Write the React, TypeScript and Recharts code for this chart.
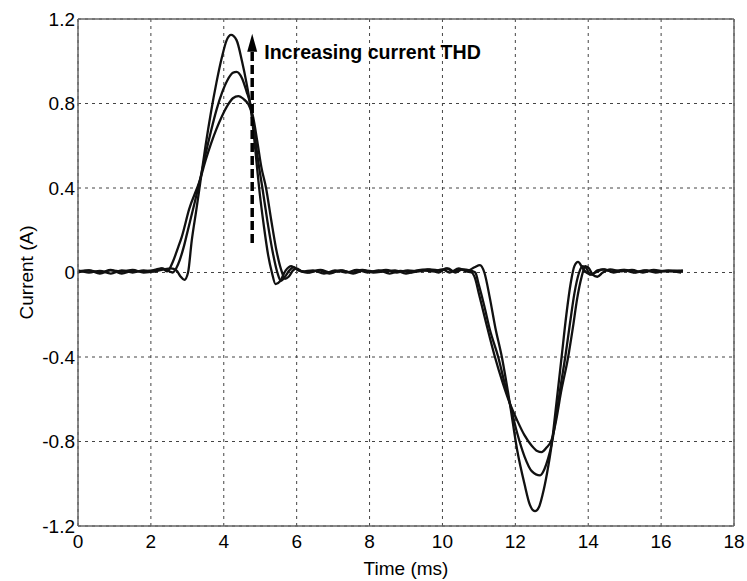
import React from 'react';
import { LineChart, Line, XAxis, YAxis, CartesianGrid, ReferenceLine } from 'recharts';

// Time (ms), current (A) pairs for the three waveforms (A = highest THD, tallest peak)
const waveA: [number, number][] = [
  [0, 0.005], [0.3, 0.01], [0.6, -0.005], [0.9, 0.01], [1.2, 0.005], [1.5, 0.012], [1.8, 0.0], [2.1, 0.005],
  [2.35, 0.015], [2.55, 0.02], [2.7, 0.01], [2.82, -0.02], [2.92, -0.035], [3.02, 0.0], [3.12, 0.15], [3.25, 0.3],
  [3.35, 0.42], [3.5, 0.6], [3.65, 0.76], [3.8, 0.9], [3.95, 1.02], [4.08, 1.1], [4.2, 1.125], [4.35, 1.1],
  [4.5, 1.0], [4.62, 0.9], [4.72, 0.8], [4.82, 0.66], [4.9, 0.52], [4.97, 0.4], [5.1, 0.22], [5.22, 0.08],
  [5.32, 0.0], [5.42, -0.055], [5.55, -0.04], [5.7, 0.01], [5.85, 0.03], [6.0, 0.015], [6.3, 0.0], [6.6, 0.01],
  [6.9, -0.005], [7.2, 0.01], [7.5, 0.0], [7.8, 0.012], [8.1, 0.0], [8.4, 0.005], [8.7, 0.01], [9.0, -0.005],
  [9.3, 0.01], [9.6, 0.015], [9.9, 0.0], [10.1, 0.02], [10.3, 0.005], [10.5, 0.015], [10.7, 0.01], [10.88, 0.025],
  [11.03, 0.035], [11.15, 0.0], [11.3, -0.12], [11.45, -0.26], [11.63, -0.4], [11.85, -0.62], [12.05, -0.84],
  [12.25, -1.0], [12.4, -1.1], [12.54, -1.13], [12.65, -1.11], [12.75, -1.05], [12.87, -0.95], [13.0, -0.81],
  [13.12, -0.63], [13.27, -0.4], [13.4, -0.2], [13.52, -0.05], [13.62, 0.03], [13.72, 0.05], [13.85, 0.02],
  [13.95, 0.0], [14.1, -0.01], [14.25, 0.01], [14.45, 0.015], [14.7, 0.0], [15.0, 0.012], [15.3, 0.0],
  [15.6, 0.01], [15.9, 0.005], [16.2, 0.01], [16.6, 0.005],
];

const waveB: [number, number][] = [
  [0, 0.0], [0.3, 0.01], [0.6, 0.0], [0.9, 0.012], [1.2, -0.005], [1.5, 0.008], [1.8, 0.005], [2.1, 0.012],
  [2.3, 0.02], [2.45, 0.01], [2.6, 0.0], [2.75, 0.04], [2.9, 0.12], [3.0, 0.19], [3.2, 0.33], [3.35, 0.44],
  [3.5, 0.56], [3.65, 0.67], [3.8, 0.77], [3.95, 0.85], [4.1, 0.91], [4.25, 0.945], [4.35, 0.95], [4.5, 0.92],
  [4.62, 0.86], [4.75, 0.78], [4.85, 0.65], [4.95, 0.52], [5.06, 0.4], [5.2, 0.24], [5.35, 0.09], [5.47, 0.0],
  [5.57, -0.04], [5.68, -0.02], [5.8, 0.01], [5.92, 0.025], [6.05, 0.01], [6.35, 0.0], [6.65, 0.012], [6.95, 0.0],
  [7.25, 0.01], [7.55, -0.005], [7.85, 0.01], [8.15, 0.005], [8.45, 0.012], [8.75, 0.0], [9.05, 0.01], [9.35, 0.005],
  [9.65, 0.015], [9.95, 0.01], [10.15, 0.02], [10.35, 0.0], [10.55, 0.015], [10.75, 0.01], [10.9, 0.0],
  [11.0, -0.06], [11.15, -0.16], [11.3, -0.27], [11.53, -0.4], [11.7, -0.52], [11.85, -0.62], [12.05, -0.76],
  [12.25, -0.87], [12.45, -0.94], [12.68, -0.96], [12.8, -0.93], [12.9, -0.88], [13.0, -0.81], [13.12, -0.68],
  [13.25, -0.53], [13.37, -0.4], [13.5, -0.24], [13.62, -0.1], [13.75, 0.0], [13.85, 0.03], [13.95, 0.02],
  [14.05, -0.01], [14.2, 0.0], [14.4, 0.015], [14.65, 0.005], [14.95, 0.012], [15.25, 0.0], [15.55, 0.01],
  [15.85, 0.0], [16.15, 0.008], [16.55, 0.0],
];

const waveC: [number, number][] = [
  [0, 0.01], [0.3, 0.0], [0.6, 0.008], [0.9, -0.005], [1.2, 0.01], [1.5, 0.0], [1.8, 0.01], [2.1, 0.005],
  [2.3, 0.02], [2.45, 0.005], [2.6, 0.05], [2.75, 0.12], [2.85, 0.17], [3.05, 0.3], [3.35, 0.44], [3.5, 0.53],
  [3.65, 0.61], [3.8, 0.68], [3.95, 0.74], [4.1, 0.79], [4.25, 0.825], [4.4, 0.835], [4.55, 0.82], [4.68, 0.795],
  [4.8, 0.74], [4.92, 0.62], [5.03, 0.5], [5.16, 0.4], [5.3, 0.25], [5.45, 0.1], [5.58, 0.01], [5.68, -0.03],
  [5.78, -0.02], [5.9, 0.01], [6.0, 0.02], [6.15, 0.005], [6.45, 0.01], [6.75, -0.005], [7.05, 0.01], [7.35, 0.0],
  [7.65, 0.012], [7.95, 0.0], [8.25, 0.01], [8.55, -0.005], [8.85, 0.008], [9.15, 0.0], [9.45, 0.01], [9.75, 0.005],
  [10.0, 0.015], [10.2, 0.0], [10.45, 0.02], [10.65, 0.005], [10.8, 0.0], [10.9, -0.03], [11.0, -0.1],
  [11.2, -0.24], [11.44, -0.4], [11.65, -0.52], [11.85, -0.62], [12.05, -0.7], [12.25, -0.77], [12.45, -0.82],
  [12.6, -0.845], [12.72, -0.85], [12.85, -0.83], [13.0, -0.79], [13.12, -0.7], [13.25, -0.57], [13.45, -0.4],
  [13.58, -0.26], [13.7, -0.12], [13.82, -0.02], [13.92, 0.03], [14.02, 0.02], [14.12, -0.01], [14.25, -0.02],
  [14.4, 0.0], [14.6, 0.015], [14.9, 0.005], [15.2, 0.012], [15.5, 0.0], [15.8, 0.012], [16.1, 0.005], [16.6, 0.01],
];

const xTicks = [0, 2, 4, 6, 8, 10, 12, 14, 16, 18];
const yTicks = [-1.2, -0.8, -0.4, 0, 0.4, 0.8, 1.2];
const annotationText = 'Increasing current THD';
const arrowTime = 4.78;
const arrowFrom = 0.14;
const arrowTo = 1.13;

const toRows = (w: [number, number][]) => w.map(([t, v]) => ({ t, v }));

const FONT = '"Liberation Sans", Arial, Helvetica, sans-serif';

const ArrowShape = (props: any) => {
  const { x1, y1, x2, y2 } = props;
  const xb = x1;
  const yBottom = Math.max(y1, y2);
  const yTip = Math.min(y1, y2);
  const headLen = 18;
  return (
    <g>
      <line x1={xb} y1={yBottom} x2={xb} y2={yTip + headLen - 2} stroke="#000" strokeWidth={3.5} strokeDasharray="9 4" />
      <polygon points={`${xb},${yTip} ${xb - 5},${yTip + headLen} ${xb + 5},${yTip + headLen}`} fill="#000" />
      <text x={xb + 12} y={yTip + 25} fontFamily={FONT} fontWeight="bold" fontSize={19.6} fill="#000">
        {annotationText}
      </text>
    </g>
  );
};

const YLabel = (props: any) => {
  const { viewBox } = props;
  const cx = 26;
  const cy = viewBox.y + viewBox.height / 2;
  return (
    <text x={cx} y={cy} transform={`rotate(-90, ${cx}, ${cy})`} textAnchor="middle" dominantBaseline="central"
      fontFamily={FONT} fontSize={19} fill="#000">
      Current (A)
    </text>
  );
};

export default function App() {
  return (
    <div style={{ position: 'absolute', left: 0, top: 0, background: '#fff' }}>
      <LineChart width={747} height={581} margin={{ top: 19, right: 13, bottom: 0, left: 0 }}>
        <CartesianGrid stroke="#444" strokeDasharray="3 4" strokeWidth={1} />
        <XAxis
          dataKey="t"
          type="number"
          domain={[0, 18]}
          ticks={xTicks}
          allowDataOverflow
          height={55}
          tickLine={false}
          tickSize={6}
          tickMargin={3}
          axisLine={{ stroke: '#666', strokeWidth: 1.5 }}
          tick={{ fill: '#000', fontSize: 19, fontFamily: FONT }}
          label={{ value: 'Time (ms)', position: 'insideBottom', offset: 6, fill: '#000', fontSize: 19, fontFamily: FONT }}
        />
        <YAxis
          type="number"
          domain={[-1.2, 1.2]}
          ticks={yTicks}
          allowDataOverflow
          width={78}
          tickLine={false}
          tickSize={3}
          tickMargin={0}
          axisLine={{ stroke: '#666', strokeWidth: 1.5 }}
          tick={{ fill: '#000', fontSize: 19, fontFamily: FONT }}
          tickFormatter={(v: number) => (v === 0 ? '0' : String(v))}
          label={<YLabel />}
        />
        <ReferenceLine y={1.2} stroke="#666" strokeWidth={1.5} />
        <ReferenceLine x={18} stroke="#666" strokeWidth={1.5} />
        <Line data={toRows(waveC)} dataKey="v" type="monotone" stroke="#111" strokeWidth={2.3} dot={false} isAnimationActive={false} />
        <Line data={toRows(waveB)} dataKey="v" type="monotone" stroke="#111" strokeWidth={2.3} dot={false} isAnimationActive={false} />
        <Line data={toRows(waveA)} dataKey="v" type="monotone" stroke="#111" strokeWidth={2.3} dot={false} isAnimationActive={false} />
        <ReferenceLine
          segment={[{ x: arrowTime, y: arrowFrom }, { x: arrowTime, y: arrowTo }]}
          stroke="#000"
          shape={(p: any) => <ArrowShape {...p} />}
        />
      </LineChart>
    </div>
  );
}
